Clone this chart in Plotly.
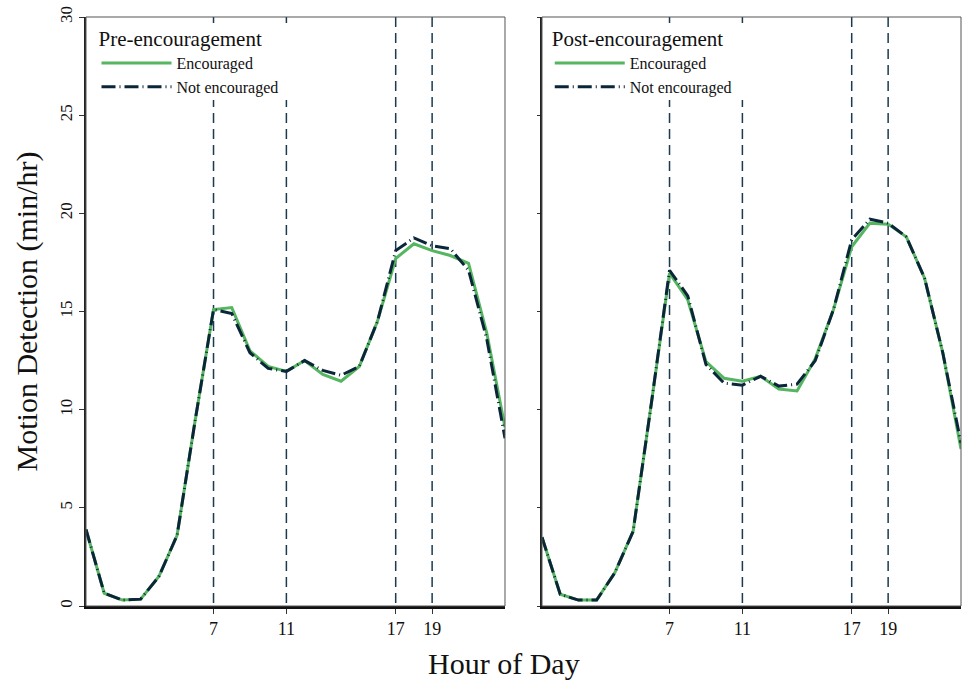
import plotly.graph_objects as go
from plotly.subplots import make_subplots

hours = list(range(24))

pre_encouraged = [3.9, 0.65, 0.3, 0.35, 1.5, 3.6, 9.5, 15.1, 15.2, 13.0, 12.2, 11.95,
                  12.5, 11.8, 11.45, 12.2, 14.5, 17.7, 18.45, 18.1, 17.85, 17.45, 13.9, 9.1]
pre_not = [3.9, 0.65, 0.3, 0.35, 1.5, 3.6, 9.5, 15.1, 14.9, 12.9, 12.1, 11.95,
           12.5, 12.0, 11.75, 12.2, 14.5, 18.1, 18.75, 18.35, 18.2, 17.1, 13.6, 8.55]
post_encouraged = [3.5, 0.6, 0.3, 0.3, 1.7, 3.8, 10.3, 16.95, 15.6, 12.45, 11.6, 11.45,
                   11.7, 11.05, 10.95, 12.6, 15.1, 18.3, 19.5, 19.45, 18.8, 16.7, 12.9, 8.0]
post_not = [3.5, 0.6, 0.3, 0.3, 1.7, 3.8, 10.3, 17.1, 15.8, 12.3, 11.35, 11.25,
            11.7, 11.2, 11.3, 12.5, 15.1, 18.65, 19.7, 19.5, 18.8, 16.7, 12.9, 8.3]

event_hours = [7, 11, 17, 19]
y_ticks = [0, 5, 10, 15, 20, 25, 30]
panel_titles = ["Pre-encouragement", "Post-encouragement"]

GREEN = "#55b560"
DARK = "#0b2639"
VLINE = "#1b3a50"
FONT = "Liberation Serif"

fig = make_subplots(rows=1, cols=2, horizontal_spacing=0.0423)

panels = [(pre_encouraged, pre_not), (post_encouraged, post_not)]
for i, (enc, notenc) in enumerate(panels):
    col = i + 1
    leg = "legend" if i == 0 else "legend2"
    fig.add_trace(go.Scatter(x=hours, y=enc, mode="lines", name="Encouraged",
                             line=dict(color=GREEN, width=3), legend=leg), row=1, col=col)
    fig.add_trace(go.Scatter(x=hours, y=notenc, mode="lines", name="Not encouraged",
                             line=dict(color=DARK, width=3, dash="14px,4px,1px,4px"),
                             legend=leg), row=1, col=col)
    xr = "x" if i == 0 else "x2"
    yd = "y domain" if i == 0 else "y2 domain"
    for h in event_hours:
        fig.add_shape(type="line", x0=h, x1=h, y0=1, y1=0, xref=xr, yref=yd,
                      line=dict(color=VLINE, width=1.5, dash="10px,6px"), layer="below")
    # legend background box (hides the event lines behind the legend)
    fig.add_shape(type="rect", x0=0.15, x1=12.0, y0=0.859, y1=0.99, xref=xr, yref=yd,
                  line=dict(width=0), fillcolor="white", layer="below")
    # frame
    fig.add_shape(type="rect", x0=0, x1=1, y0=0, y1=1,
                  xref=("x domain" if i == 0 else "x2 domain"), yref=yd,
                  line=dict(color="#555555", width=1), layer="above")

for i in range(2):
    col = i + 1
    fig.update_xaxes(range=[0, 23], tickvals=event_hours, ticktext=[str(h) for h in event_hours],
                     ticks="outside", ticklen=5, tickcolor="#333", showgrid=False, zeroline=False,
                     showline=True, linecolor="#111", linewidth=2.5,
                     tickfont=dict(family=FONT, size=18, color="#111"), row=1, col=col)
    fig.update_yaxes(range=[0, 30], tickvals=y_ticks, showgrid=False, zeroline=False,
                     showline=True, linecolor="#222", linewidth=1.5,
                     ticks="outside", ticklen=5 if i == 0 else 3, tickcolor="#333",
                     showticklabels=(i == 0), tickangle=-90,
                     tickfont=dict(family=FONT, size=17, color="#111"), row=1, col=col)

fig.update_yaxes(title=dict(text="Motion Detection (min/hr)",
                            font=dict(family=FONT, size=30, color="#111"), standoff=11),
                 row=1, col=1)

legend_common = dict(bgcolor="rgba(0,0,0,0)", borderwidth=0, yanchor="top", xanchor="left",
                     font=dict(family=FONT, size=16, color="#111"),
                     tracegroupgap=0, itemwidth=70)
fig.update_layout(
    legend=dict(x=0.012, y=0.997,
                title=dict(text=panel_titles[0], font=dict(family=FONT, size=21, color="#111")),
                **legend_common),
    legend2=dict(x=0.53, y=0.997,
                 title=dict(text=panel_titles[1], font=dict(family=FONT, size=21, color="#111")),
                 **legend_common),
)

fig.add_annotation(text="Hour of Day", x=0.478, y=-0.097, xref="paper", yref="paper",
                   showarrow=False, xanchor="center", yanchor="middle",
                   font=dict(family=FONT, size=30, color="#111"))

fig.update_layout(width=965, height=687, margin=dict(l=86, r=4, t=17, b=81),
                  plot_bgcolor="white", paper_bgcolor="white", showlegend=True)

fig.write_html("out.html")
